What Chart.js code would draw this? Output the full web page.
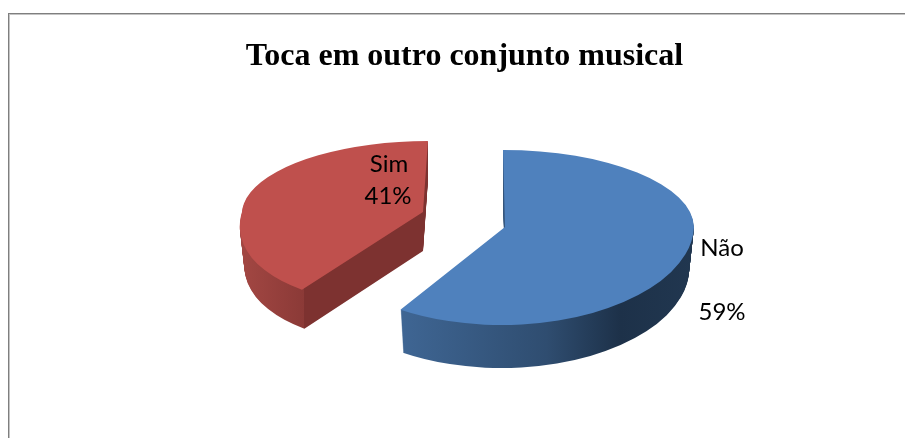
<!DOCTYPE html>
<html>
<head>
<meta charset="utf-8">
<style>
  html, body { margin: 0; padding: 0; background: #fff; overflow: hidden; }
  #frame { position: absolute; left: 8px; top: 13px; width: 897px; height: 425px;
    border-top: 1px solid #7f7f7f; border-left: 1px solid #7f7f7f;
    box-shadow: inset 1px 1px 0 #c4c4c4; box-sizing: border-box; }
  #chart { position: absolute; left: 0; top: 0; }
</style>
<script src="https://cdn.jsdelivr.net/npm/chart.js@4"></script>
</head>
<body>
<div id="frame"></div>
<canvas id="chart" width="905" height="438"></canvas>
<script>
const chartTitle = "Toca em outro conjunto musical";
const categories = ["Não", "Sim"];
const values = [59, 41];
const sliceColors = ["#4f81bd", "#bf504d"];

// fake 3d look, every slice is squashed on its own (upper and lower half differ for the perspective)
const sliceShapes = [
  { cx: 505, cy: 227, rx: 189, depth: 43,
    top: { ry: 77, shear: 0.026 }, bottom: { ry: 98, shear: -0.04 } },
  { cx: 423, cy: 212, rx: 181, depth: 39,
    top: { ry: 71, shear: -0.07 }, bottom: { ry: 92, shear: -0.31 } }
];
const wallShrink = 0.025;
const wallStops = [
  { from: 399, to: 694, stops: [[0, "#3f6694"], [0.5, "#2f4d70"], [0.75, "#1d3149"], [1, "#213750"]] },
  { from: 240, to: 430, stops: [[0, "#a34743"], [0.337, "#8b3a37"], [0.337, "#7d3230"], [1, "#7d3230"]] }
];
const labelSpots = [
  { name: [722, 248], pct: [722, 312] },
  { name: [389, 164], pct: [388, 196] }
];

function drawHalves(c, arc, s, dy) {
  const W = c.canvas.width, H = c.canvas.height;
  const R = arc.outerRadius;
  // the wall gets a bit narrower the further down it goes
  const sx = (s.rx / R) * (1 - wallShrink * dy / s.depth);
  [s.top, s.bottom].forEach((h, i) => {
    const edge = s.cy + dy;
    const sy = h.ry / R;
    c.save();
    c.beginPath();
    if (i === 0) c.rect(0, 0, W, edge);
    else c.rect(0, edge, W, H - edge);
    c.clip();
    c.transform(sx, 0, h.shear * sy, sy, s.cx, edge);
    c.translate(-arc.x, -arc.y);
    arc.draw(c);
    c.restore();
  });
}

const pie3d = {
  id: "pie3d",
  beforeDatasetDraw(chart, args) {
    const ctx = chart.ctx;
    const off = document.createElement("canvas");
    off.width = chart.width;
    off.height = chart.height;
    const offCtx = off.getContext("2d");

    args.meta.data.forEach((arc, i) => {
      const s = sliceShapes[i];
      offCtx.globalCompositeOperation = "source-over";
      offCtx.clearRect(0, 0, off.width, off.height);
      for (let d = s.depth; d >= 1; d--) {
        drawHalves(offCtx, arc, s, d);
      }
      // paint the side wall in screen space
      const w = wallStops[i];
      const grad = offCtx.createLinearGradient(w.from, 0, w.to, 0);
      w.stops.forEach((st) => grad.addColorStop(st[0], st[1]));
      offCtx.globalCompositeOperation = "source-in";
      offCtx.fillStyle = grad;
      offCtx.fillRect(0, 0, off.width, off.height);
      ctx.drawImage(off, 0, 0);
      drawHalves(ctx, arc, s, 0);
    });
    return false;
  },
  afterDatasetsDraw(chart) {
    const ctx = chart.ctx;
    const total = values.reduce((a, b) => a + b, 0);
    ctx.save();
    ctx.font = '24px Lato';
    ctx.fillStyle = "#000";
    ctx.textAlign = "center";
    ctx.textBaseline = "middle";
    categories.forEach((name, i) => {
      const spot = labelSpots[i];
      ctx.fillText(name, spot.name[0], spot.name[1]);
      ctx.fillText(Math.round(values[i] / total * 100) + "%", spot.pct[0], spot.pct[1]);
    });
    ctx.restore();
  }
};

new Chart(document.getElementById("chart"), {
  type: "pie",
  data: {
    labels: categories,
    datasets: [{ data: values, backgroundColor: sliceColors, borderWidth: 0 }]
  },
  options: {
    responsive: false,
    animation: false,
    devicePixelRatio: 1,
    radius: 190,
    layout: { padding: { left: 24 } },
    plugins: {
      legend: { display: false },
      tooltip: { enabled: false },
      title: {
        display: true,
        text: chartTitle,
        color: "#000",
        font: { family: "Liberation Serif", size: 32, weight: "bold" },
        padding: { top: 38, bottom: 10 }
      }
    }
  },
  plugins: [pie3d]
});
</script>
</body>
</html>
